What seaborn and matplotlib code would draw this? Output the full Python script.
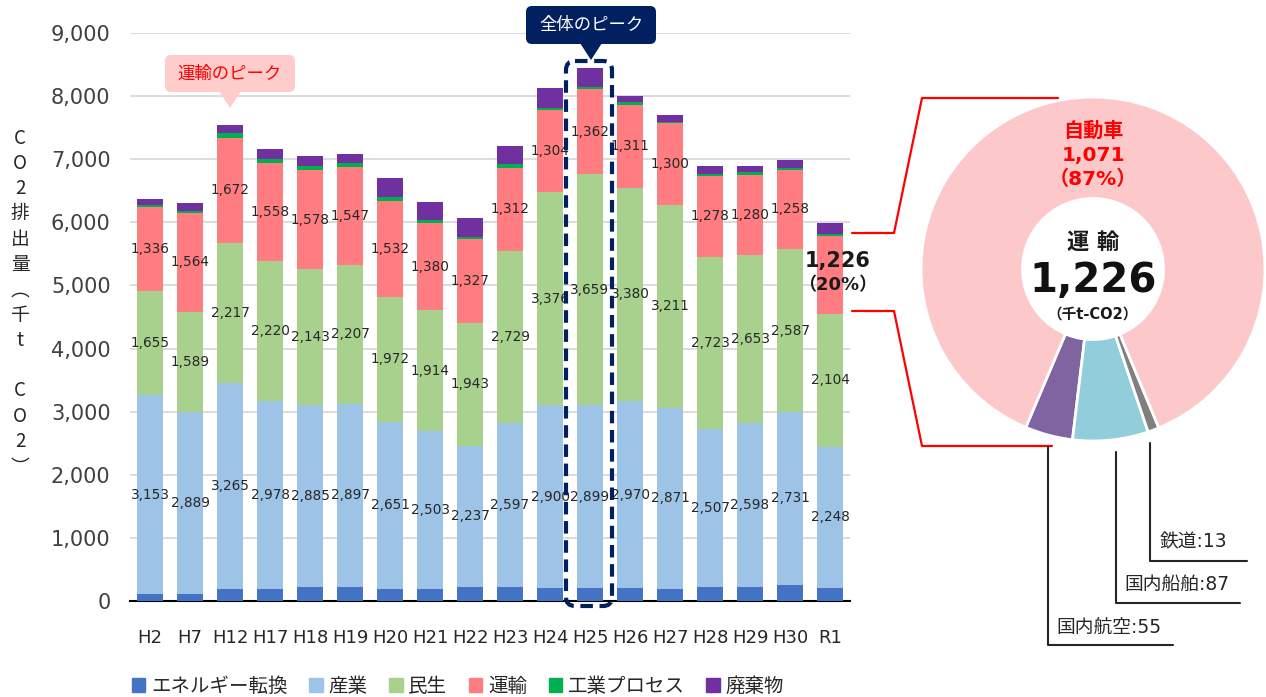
import numpy as np
import matplotlib.pyplot as plt
import seaborn as sns
from matplotlib.patches import Patch, FancyBboxPatch, Polygon
from matplotlib.ticker import FuncFormatter

# --- data (千t-CO2) ---
years = ["H2", "H7", "H12", "H17", "H18", "H19", "H20", "H21", "H22",
         "H23", "H24", "H25", "H26", "H27", "H28", "H29", "H30", "R1"]
energy      = [105, 105, 190, 190, 225, 225, 190, 190, 225, 225, 200, 200, 200, 190, 225, 225, 260, 200]
industry    = [3153, 2889, 3265, 2978, 2885, 2897, 2651, 2503, 2237, 2597, 2900, 2899, 2970, 2871, 2507, 2598, 2731, 2248]
residential = [1655, 1589, 2217, 2220, 2143, 2207, 1972, 1914, 1943, 2729, 3376, 3659, 3380, 3211, 2723, 2653, 2587, 2104]
transport   = [1336, 1564, 1672, 1558, 1578, 1547, 1532, 1380, 1327, 1312, 1304, 1362, 1311, 1300, 1278, 1280, 1258, 1226]
process     = [30, 40, 65, 50, 58, 70, 58, 55, 30, 65, 35, 30, 50, 15, 35, 35, 30, 35]
waste       = [90, 120, 130, 160, 165, 140, 295, 280, 310, 285, 315, 300, 95, 118, 127, 104, 124, 170]

layers = ["エネルギー転換", "産業", "民生", "運輸", "工業プロセス", "廃棄物"]
layer_vals = [energy, industry, residential, transport, process, waste]
layer_colors = ["#4472C4", "#9DC3E6", "#A9D18E", "#FF7C80", "#00B050", "#7030A0"]
labelled = ["産業", "民生", "運輸"]

# R1 transport breakdown
sub_names  = ["国内航空", "国内船舶", "鉄道", "自動車"]
sub_vals   = [55, 87, 13, 1071]
sub_colors = ["#8064A2", "#92CDDC", "#808080", "#FCC8C9"]

# --- style ---
sns.set_theme(style="white")
plt.rcParams["font.family"] = ["DejaVu Sans", "Noto Sans CJK JP"]

W, H = 1266, 697
fig = plt.figure(figsize=(W / 100, H / 100), dpi=100)
fig.patch.set_facecolor("white")

# ── stacked bars ──────────────────────────────────────────────
ax = fig.add_axes([130 / W, 96 / H, 720 / W, 568 / H])
bottom = np.zeros(len(years))
for name, vals, col in zip(layers, layer_vals, layer_colors):
    vals = np.array(vals, dtype=float)
    sns.barplot(x=years, y=vals, bottom=bottom, color=col, saturation=1,
                width=0.64, errorbar=None, linewidth=0, ax=ax, zorder=3)
    if name in labelled:
        for i, (b, v) in enumerate(zip(bottom, vals)):
            if name == "運輸" and years[i] == "R1":
                continue
            ax.text(i, b + v / 2, f"{int(v):,}", ha="center", va="center",
                    fontsize=9.8, color="#262626", zorder=4)
    bottom += vals

ax.set_xlim(-0.5, len(years) - 0.5)
ax.set_ylim(0, 9000)
ax.set_yticks(range(0, 9001, 1000))
ax.yaxis.set_major_formatter(FuncFormatter(lambda v, p: f"{int(v):,}"))
ax.yaxis.grid(True, color="#D9D9D9", lw=1.3, zorder=0)
ax.set_axisbelow(True)
for s in ["left", "right", "top"]:
    ax.spines[s].set_visible(False)
ax.spines["bottom"].set_color("black")
ax.spines["bottom"].set_linewidth(1.5)
ax.tick_params(axis="y", length=0, pad=14, labelsize=15, labelcolor="#404040")
ax.tick_params(axis="x", length=0, pad=20, labelsize=13, labelcolor="#262626")
ax.set_xlabel("")
ax.set_ylabel("")

# ── donut ──────────────────────────────────────────────────────
dax = fig.add_axes([921 / W, (H - 441) / H, 344 / W, 344 / H])
dax.pie(sub_vals, colors=sub_colors, startangle=247, radius=1,
        wedgeprops=dict(width=0.59, edgecolor="white", linewidth=2))
dax.set_xlim(-1, 1)
dax.set_ylim(-1, 1)
dax.set_aspect("equal")
dax.axis("off")

# ── overlay in pixel coords ───────────────────────────────────
ov = fig.add_axes([0, 0, 1, 1], zorder=5)
ov.set_xlim(0, W)
ov.set_ylim(H, 0)
ov.axis("off")
ov.patch.set_alpha(0)

# vertical y-label
ylab = ["C", "O", "2", "排", "出", "量", "︵", "千", "t", "", "C", "O", "2", "︶"]
for k, ch in enumerate(ylab):
    ov.text(20, 138 + 25.3 * k, ch, ha="center", va="center", fontsize=13.5,
            color="#262626", family=["Noto Sans CJK JP", "DejaVu Sans"])

# callout: transport peak
ov.add_patch(FancyBboxPatch((165, 55), 130, 37, boxstyle="round,pad=0,rounding_size=6",
                            fc="#FFCCCC", ec="none"))
ov.add_patch(Polygon([(219, 91), (241, 91), (230, 108)], closed=True, fc="#FFCCCC", ec="none"))
ov.text(230, 74, "運輸のピーク", ha="center", va="center", fontsize=12.5, color="#FF0000")

# callout: overall peak
ov.add_patch(FancyBboxPatch((526, 6), 130, 38, boxstyle="round,pad=0,rounding_size=6",
                            fc="#002060", ec="none"))
ov.add_patch(Polygon([(580, 43), (602, 43), (591, 60)], closed=True, fc="#002060", ec="none"))
ov.text(591, 25, "全体のピーク", ha="center", va="center", fontsize=12.5, color="white")
ov.add_patch(FancyBboxPatch((566, 61), 46, 545, boxstyle="round,pad=0,rounding_size=9",
                            fill=False, ec="#002060", lw=3, ls=(0, (3, 1.6))))

# R1 transport label
ov.text(838, 261, f"{transport[-1]:,}", ha="center", va="center", fontsize=15,
        fontweight="bold", color="#1a1a1a")
ov.text(838, 285, "（20%）", ha="center", va="center", fontsize=13,
        fontweight="bold", color="#1a1a1a")

# red connectors
ov.plot([852, 894, 922, 1058], [233, 233, 98, 98], color="red", lw=1.6)
ov.plot([852, 894, 922, 1052], [311, 311, 446, 446], color="red", lw=1.6)

# donut text
ov.text(1093, 131, "自動車", ha="center", va="center", fontsize=14.5, fontweight="bold", color="#FF0000")
ov.text(1093, 155, f"{sub_vals[3]:,}", ha="center", va="center", fontsize=14.5, fontweight="bold", color="#FF0000")
ov.text(1093, 179, "（87%）", ha="center", va="center", fontsize=14.5, fontweight="bold", color="#FF0000")
ov.text(1093, 242, "運 輸", ha="center", va="center", fontsize=16, fontweight="bold", color="#1a1a1a")
ov.text(1093, 281, f"{sum(sub_vals):,}", ha="center", va="center", fontsize=29, fontweight="bold", color="#111111")
ov.text(1093, 314, "（千t-CO2）", ha="center", va="center", fontsize=10.5, fontweight="bold", color="#1a1a1a")

# leader lines for small slices
leaders = [(1048, 447, 645, 1173, 1056, 627),
           (1116, 452, 603, 1240, 1124, 584),
           (1150, 443, 561, 1247, 1160, 542)]
for (lx, y0, y1, x1, tx, ty), nm, v in zip(leaders, sub_names[:3], sub_vals[:3]):
    ov.plot([lx, lx, x1], [y0, y1, y1], color="#262626", lw=1.5)
    ov.text(tx, ty, f"{nm}:{v}", ha="left", va="center", fontsize=13.5, color="#262626")

# legend
handles = [Patch(color=c) for c in layer_colors]
fig.legend(handles, layers, loc="center left", bbox_to_anchor=(124 / W, 1 - 686 / H),
           ncol=6, frameon=False, fontsize=14, handlelength=0.7, handleheight=0.7,
           handletextpad=0.3, columnspacing=1.1, borderaxespad=0)

fig.savefig("out.png", dpi=100)
